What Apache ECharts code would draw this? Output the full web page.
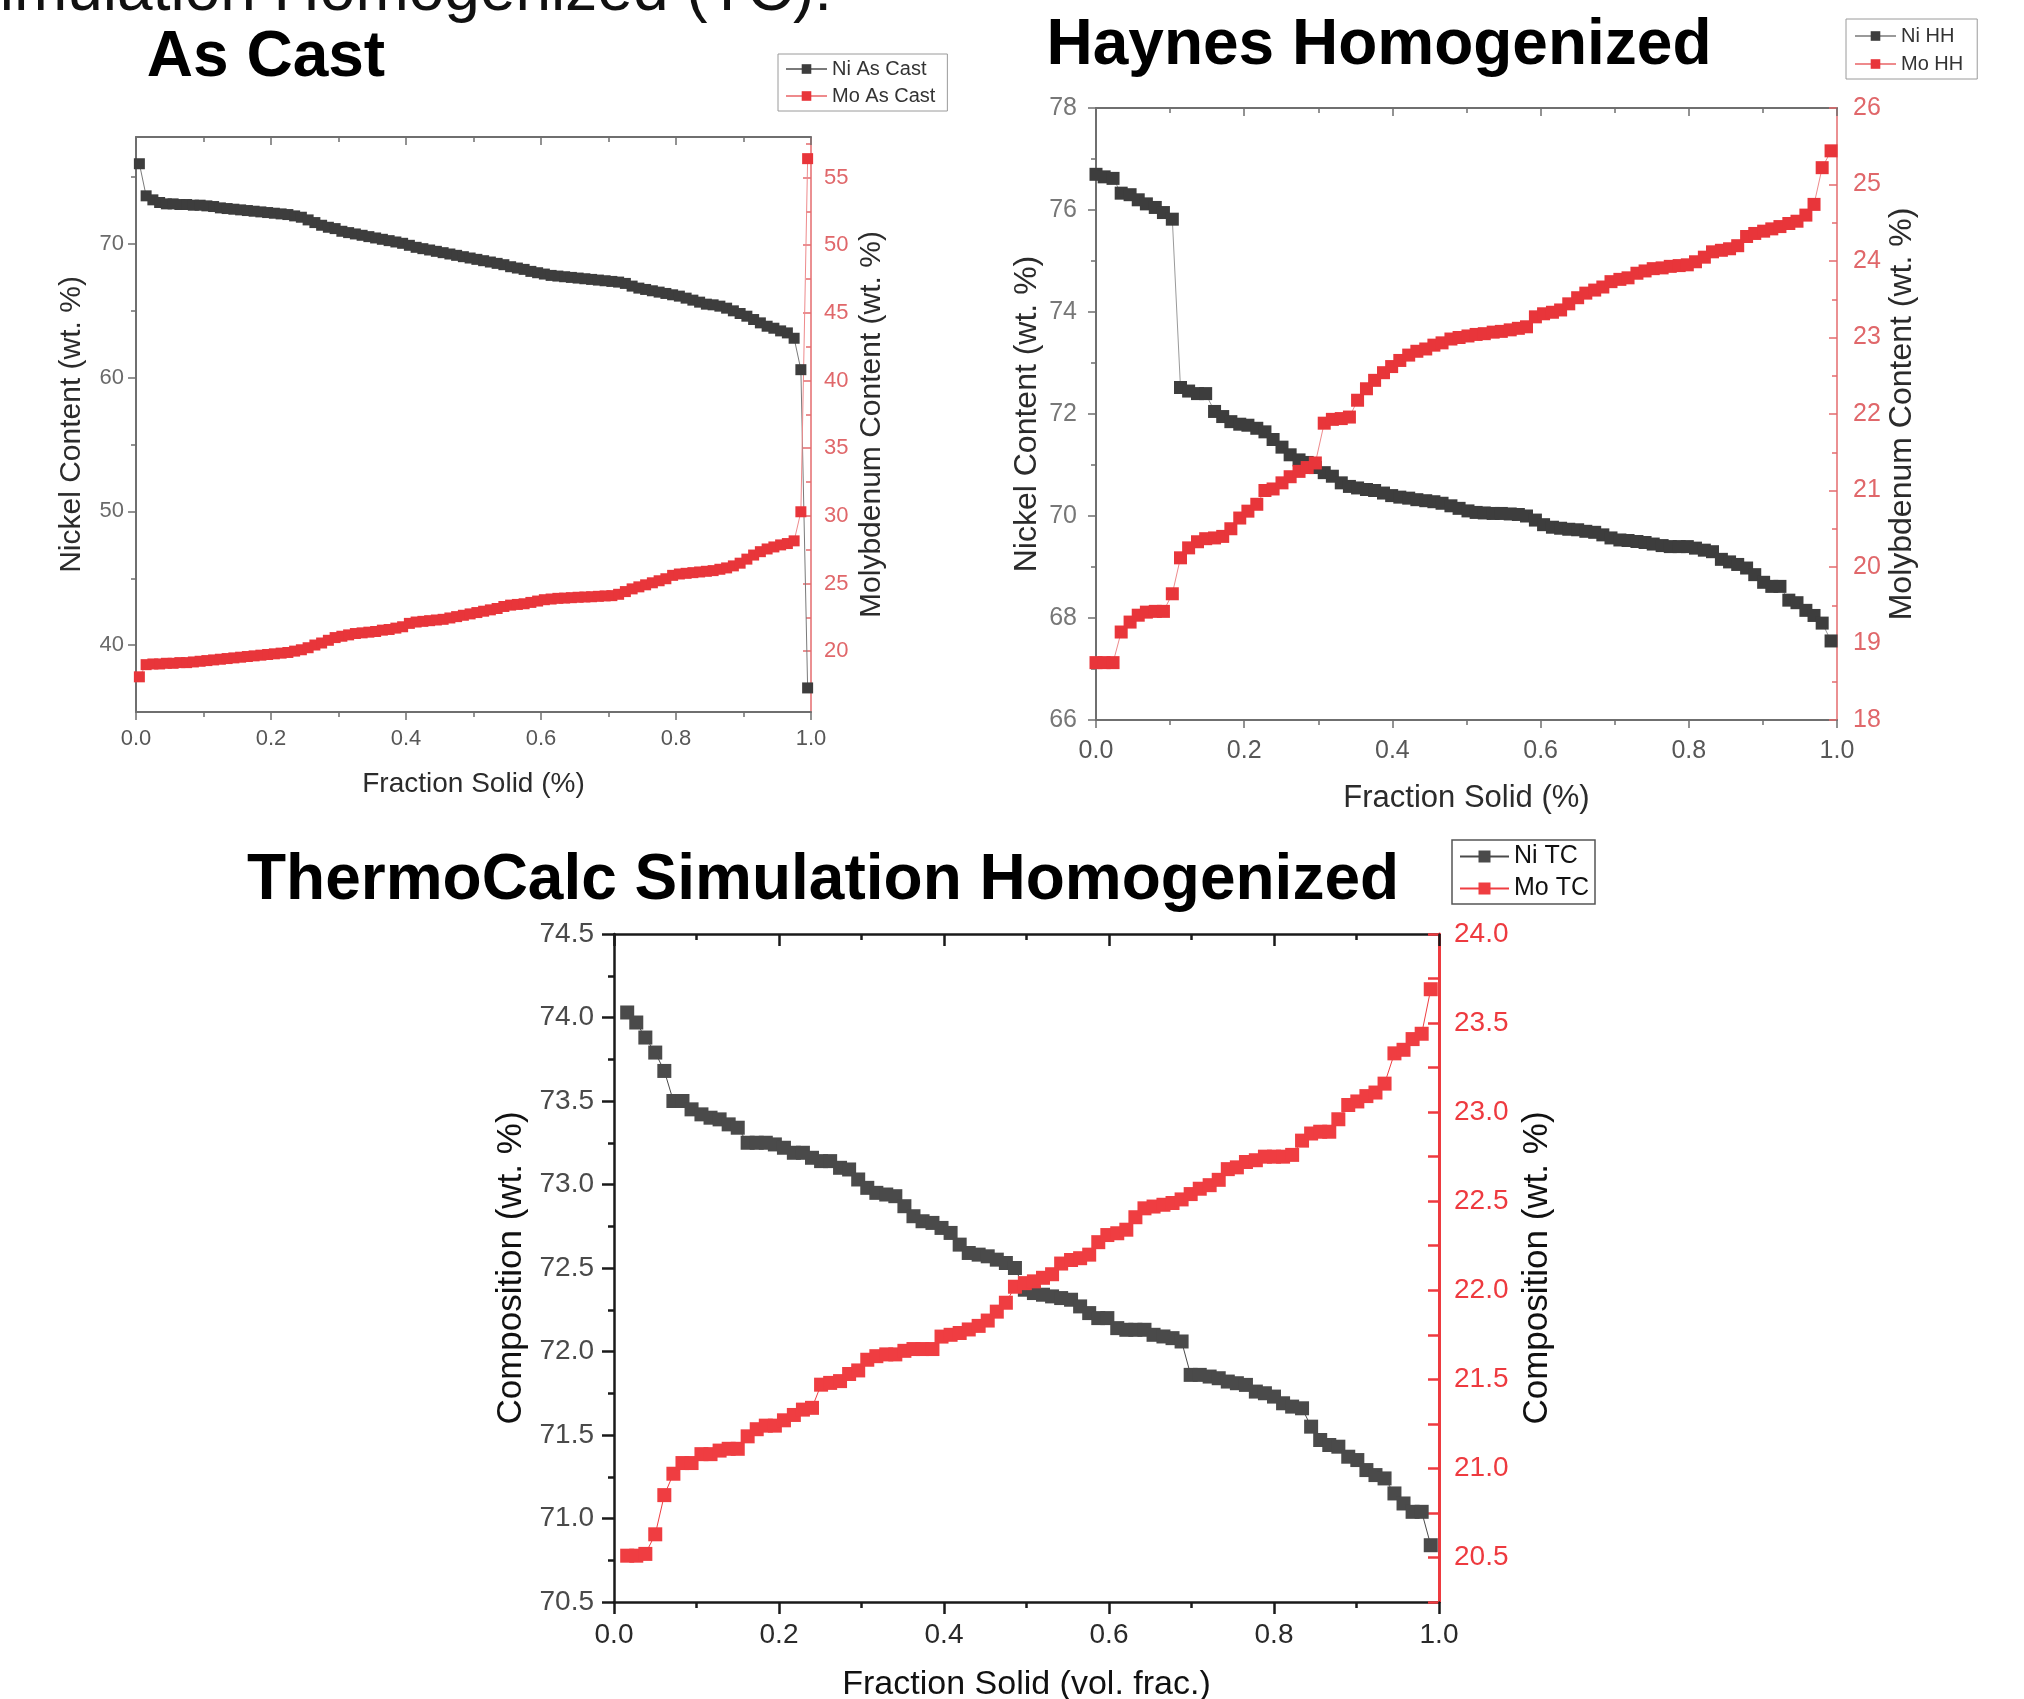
<!DOCTYPE html>
<html>
<head>
<meta charset="utf-8">
<title>Ni and Mo content vs fraction solid</title>
<script src="https://cdn.jsdelivr.net/npm/echarts@6.0.0/dist/echarts.min.js"></script>
<style>
  html, body { margin: 0; padding: 0; background: #fff; }
  #chart { width: 2024px; height: 1699px; }
</style>
</head>
<body>
<div id="chart"></div>
<script>
// ---- As Cast ----
const fracAsCast = [
  0.005, 0.015, 0.025, 0.035, 0.045, 0.055, 0.065, 0.075, 0.085, 0.095,
  0.105, 0.115, 0.125, 0.135, 0.145, 0.155, 0.165, 0.175, 0.185, 0.195,
  0.205, 0.215, 0.225, 0.235, 0.245, 0.255, 0.265, 0.275, 0.285, 0.295,
  0.305, 0.315, 0.325, 0.335, 0.345, 0.355, 0.365, 0.375, 0.385, 0.395,
  0.405, 0.415, 0.425, 0.435, 0.445, 0.455, 0.465, 0.475, 0.485, 0.495,
  0.505, 0.515, 0.525, 0.535, 0.545, 0.555, 0.565, 0.575, 0.585, 0.595,
  0.605, 0.615, 0.625, 0.635, 0.645, 0.655, 0.665, 0.675, 0.685, 0.695,
  0.705, 0.715, 0.725, 0.735, 0.745, 0.755, 0.765, 0.775, 0.785, 0.795,
  0.805, 0.815, 0.825, 0.835, 0.845, 0.855, 0.865, 0.875, 0.885, 0.895,
  0.905, 0.915, 0.925, 0.935, 0.945, 0.955, 0.965, 0.975, 0.985, 0.995
]
const niAsCast = [
  76.0, 73.6, 73.3, 73.1, 73.0, 73.0, 72.95, 72.95, 72.9, 72.9,
  72.85, 72.8, 72.7, 72.65, 72.6, 72.55, 72.5, 72.45, 72.4, 72.35,
  72.3, 72.25, 72.2, 72.1, 72.0, 71.8, 71.6, 71.4, 71.25, 71.15,
  70.95, 70.85, 70.75, 70.65, 70.55, 70.45, 70.35, 70.25, 70.15, 70.05,
  69.9, 69.75, 69.65, 69.55, 69.45, 69.35, 69.25, 69.15, 69.05, 68.95,
  68.85, 68.75, 68.65, 68.55, 68.45, 68.3, 68.2, 68.1, 67.95, 67.85,
  67.75, 67.65, 67.6, 67.55, 67.5, 67.45, 67.4, 67.35, 67.3, 67.25,
  67.2, 67.15, 67.05, 66.85, 66.7, 66.6, 66.5, 66.4, 66.3, 66.2,
  66.1, 65.95, 65.8, 65.65, 65.5, 65.45, 65.35, 65.2, 65.0, 64.8,
  64.6, 64.35, 64.1, 63.85, 63.7, 63.5, 63.35, 62.95, 60.6, 36.8
]
const moAsCast = [
  18.1, 19.0, 19.05, 19.05, 19.1, 19.1, 19.15, 19.15, 19.2, 19.25,
  19.3, 19.35, 19.4, 19.45, 19.5, 19.55, 19.6, 19.65, 19.7, 19.75,
  19.8, 19.85, 19.9, 20.0, 20.1, 20.25, 20.45, 20.6, 20.8, 21.0,
  21.1, 21.2, 21.3, 21.35, 21.4, 21.45, 21.55, 21.6, 21.7, 21.8,
  22.05, 22.15, 22.2, 22.25, 22.3, 22.35, 22.45, 22.55, 22.65, 22.75,
  22.85, 22.95, 23.05, 23.15, 23.3, 23.4, 23.45, 23.5, 23.6, 23.7,
  23.8, 23.85, 23.9, 23.92, 23.95, 23.98, 24.0, 24.02, 24.05, 24.08,
  24.1, 24.2, 24.4, 24.6, 24.75, 24.9, 25.05, 25.2, 25.35, 25.6,
  25.7, 25.75, 25.8, 25.85, 25.9, 25.95, 26.05, 26.15, 26.3, 26.5,
  26.8, 27.1, 27.35, 27.55, 27.7, 27.85, 27.95, 28.15, 30.3, 56.4
]

// ---- Haynes Homogenized ----
const fracHH = [
  0.000, 0.011, 0.023, 0.034, 0.046, 0.057, 0.068, 0.080, 0.091, 0.103,
  0.114, 0.125, 0.137, 0.148, 0.160, 0.171, 0.182, 0.194, 0.205, 0.217,
  0.228, 0.239, 0.251, 0.262, 0.274, 0.285, 0.296, 0.308, 0.319, 0.331,
  0.342, 0.353, 0.365, 0.376, 0.388, 0.399, 0.410, 0.422, 0.433, 0.445,
  0.456, 0.467, 0.479, 0.490, 0.502, 0.513, 0.524, 0.536, 0.547, 0.559,
  0.570, 0.581, 0.593, 0.604, 0.616, 0.627, 0.638, 0.650, 0.661, 0.673,
  0.684, 0.695, 0.707, 0.718, 0.730, 0.741, 0.752, 0.764, 0.775, 0.787,
  0.798, 0.809, 0.821, 0.832, 0.844, 0.855, 0.866, 0.878, 0.889, 0.901,
  0.912, 0.923, 0.935, 0.946, 0.958, 0.969, 0.980, 0.992
]
const niHH = [
  76.7, 76.65, 76.62, 76.33, 76.3, 76.2, 76.12, 76.05, 75.95, 75.82,
  72.52, 72.45, 72.4, 72.4, 72.05, 71.95, 71.85, 71.8, 71.78, 71.72,
  71.65, 71.5, 71.35, 71.2, 71.1, 71.05, 70.95, 70.85, 70.78, 70.65,
  70.58, 70.55, 70.52, 70.5, 70.45, 70.4, 70.37, 70.35, 70.32, 70.3,
  70.28, 70.25, 70.2, 70.15, 70.1, 70.07, 70.06, 70.05, 70.05, 70.04,
  70.03, 70.0, 69.92, 69.83, 69.78, 69.76, 69.74, 69.73, 69.7, 69.68,
  69.63, 69.57, 69.53, 69.52, 69.5, 69.48, 69.45, 69.42, 69.4, 69.4,
  69.4, 69.37, 69.33, 69.3, 69.15, 69.1, 69.05, 68.98, 68.85, 68.7,
  68.62, 68.62, 68.35, 68.3, 68.15, 68.05, 67.9, 67.55
]
const moHH = [
  18.75, 18.75, 18.75, 19.15, 19.28, 19.37, 19.41, 19.42, 19.42, 19.65,
  20.12, 20.25, 20.33, 20.37, 20.38, 20.4, 20.5, 20.64, 20.73, 20.82,
  21.0, 21.02, 21.1, 21.18, 21.25, 21.3, 21.36, 21.88, 21.93, 21.94,
  21.96, 22.18, 22.33, 22.44, 22.54, 22.62, 22.7, 22.77, 22.82, 22.85,
  22.9, 22.93, 22.98, 23.0, 23.02, 23.04, 23.05, 23.07, 23.08, 23.1,
  23.12, 23.14, 23.27, 23.31, 23.33, 23.36, 23.44, 23.52, 23.58, 23.62,
  23.66, 23.73, 23.76, 23.78, 23.84, 23.87, 23.9, 23.91, 23.93, 23.94,
  23.95, 23.99, 24.05, 24.12, 24.14, 24.16, 24.2, 24.32, 24.36, 24.39,
  24.42, 24.45, 24.49, 24.52, 24.6, 24.74, 25.22, 25.44
]

// ---- ThermoCalc Simulation Homogenized ----
const fracTC = [
  0.016, 0.027, 0.038, 0.050, 0.061, 0.072, 0.083, 0.094, 0.106, 0.117,
  0.128, 0.139, 0.150, 0.162, 0.173, 0.184, 0.195, 0.206, 0.218, 0.229,
  0.240, 0.251, 0.262, 0.274, 0.285, 0.296, 0.307, 0.318, 0.330, 0.341,
  0.352, 0.363, 0.374, 0.386, 0.397, 0.408, 0.419, 0.430, 0.442, 0.453,
  0.464, 0.475, 0.486, 0.498, 0.509, 0.520, 0.531, 0.542, 0.554, 0.565,
  0.576, 0.587, 0.598, 0.610, 0.621, 0.632, 0.643, 0.654, 0.666, 0.677,
  0.688, 0.699, 0.710, 0.722, 0.733, 0.744, 0.755, 0.766, 0.778, 0.789,
  0.800, 0.811, 0.822, 0.834, 0.845, 0.856, 0.867, 0.878, 0.890, 0.901,
  0.912, 0.923, 0.934, 0.946, 0.957, 0.968, 0.979, 0.990
]
const niTC = [
  74.03, 73.97, 73.88, 73.79, 73.68, 73.5, 73.5, 73.45, 73.42, 73.4,
  73.39, 73.36, 73.34, 73.25, 73.25, 73.25, 73.24, 73.22, 73.19, 73.19,
  73.16, 73.14, 73.14, 73.1, 73.09, 73.03, 72.98, 72.95, 72.94, 72.93,
  72.87, 72.81, 72.78, 72.77, 72.74, 72.71, 72.64, 72.59, 72.58, 72.57,
  72.55, 72.53, 72.5, 72.37, 72.35, 72.34, 72.33, 72.32, 72.31, 72.27,
  72.23, 72.2, 72.2, 72.14, 72.13, 72.13, 72.13, 72.1, 72.09, 72.08,
  72.06, 71.86, 71.86, 71.85, 71.84, 71.82, 71.81, 71.8, 71.76, 71.75,
  71.73, 71.69, 71.67, 71.66, 71.55, 71.47, 71.44, 71.43, 71.37, 71.35,
  71.29, 71.26, 71.24, 71.15, 71.09, 71.04, 71.04, 70.84
]
const moTC = [
  20.51, 20.51, 20.52, 20.63, 20.85, 20.97, 21.03, 21.03, 21.08, 21.08,
  21.1, 21.11, 21.11, 21.18, 21.22, 21.24, 21.24, 21.27, 21.3, 21.33,
  21.34, 21.47, 21.48, 21.49, 21.53, 21.55, 21.61, 21.63, 21.64, 21.64,
  21.66, 21.67, 21.67, 21.67, 21.74, 21.75, 21.76, 21.78, 21.8, 21.83,
  21.88, 21.93, 22.02, 22.04, 22.05, 22.07, 22.09, 22.15, 22.17, 22.18,
  22.2, 22.27, 22.31, 22.32, 22.34, 22.41, 22.46, 22.47, 22.48, 22.49,
  22.51, 22.54, 22.57, 22.59, 22.62, 22.68, 22.69, 22.72, 22.73, 22.75,
  22.75, 22.75, 22.76, 22.84, 22.88, 22.89, 22.89, 22.96, 23.04, 23.06,
  23.09, 23.11, 23.16, 23.33, 23.35, 23.41, 23.44, 23.69
]

// tick labels of the As Cast panel (its ranges are not round)
const niAsCastTicks = [40, 50, 60, 70]
const niAsCastMinor = [45, 55, 65, 75]
const moAsCastTicks = [20, 25, 30, 35, 40, 45, 50, 55]
const moAsCastMinor = [17.5, 22.5, 27.5, 32.5, 37.5, 42.5, 47.5, 52.5, 57.5]

const FONT = '"Liberation Sans", Arial, Helvetica, sans-serif'

const looks = [
  { // as cast
    line: '#6f6f6f', lineW: 2, red: '#e46b6e', redW: 1.5, tickW: 1.5,
    xLabel: '#575757', label: '#6a6a6a', redLabel: '#e0676a', name: '#2b2b2b',
    labelSize: 22, nameSize: 28, yNameSize: 30, tick: 8, minor: 5
  },
  { // haynes
    line: '#6f6f6f', lineW: 2, red: '#e46b6e', redW: 1.5, tickW: 1.5,
    xLabel: '#575757', label: '#777777', redLabel: '#e0676a', name: '#2b2b2b',
    labelSize: 25, nameSize: 31, yNameSize: 32, tick: 8, minor: 5
  },
  { // thermocalc
    line: '#1a1a1a', lineW: 2.5, red: '#ee3a3f', redW: 3, tickW: 2.5,
    xLabel: '#2a2a2a', label: '#4a4a4a', redLabel: '#ee3a3f', name: '#111111',
    labelSize: 28, nameSize: 34, yNameSize: 35, tick: 12, minor: 6
  }
]

function fracAxes(g, lk, name, nameGap, margin) {
  const lineStyle = { color: lk.line, width: lk.lineW }
  const tickStyle = { color: lk.line, width: lk.tickW }
  return [{
    type: 'value', gridIndex: g, position: 'bottom', min: 0, max: 1, interval: 0.2,
    name: name, nameLocation: 'middle', nameGap: nameGap, nameMoveOverlap: false,
    nameTextStyle: { fontFamily: FONT, fontSize: lk.nameSize, color: lk.name },
    axisLine: { onZero: false, lineStyle: lineStyle },
    axisTick: { length: lk.tick, lineStyle: tickStyle },
    minorTick: { show: true, splitNumber: 2, length: lk.minor, lineStyle: tickStyle },
    axisLabel: {
      margin: margin, fontFamily: FONT, fontSize: lk.labelSize, color: lk.xLabel,
      formatter: v => v.toFixed(1)
    },
    splitLine: { show: false }
  }, {
    type: 'value', gridIndex: g, position: 'top', min: 0, max: 1, interval: 0.2,
    axisLine: { onZero: false, lineStyle: lineStyle },
    axisTick: { inside: true, length: lk.tick, lineStyle: tickStyle },
    minorTick: { show: true, splitNumber: 2, length: lk.minor, lineStyle: tickStyle },
    axisLabel: { show: false },
    splitLine: { show: false }
  }]
}

function valueAxis(g, side, lk, o) {
  const right = side === 'right'
  const color = right ? lk.red : lk.line
  const tickStyle = { color: color, width: lk.tickW }
  return {
    type: 'value', gridIndex: g, position: side, min: o.min, max: o.max, interval: o.interval,
    name: o.name, nameLocation: 'middle', nameRotate: 90, nameGap: o.nameGap, nameMoveOverlap: false,
    nameTextStyle: { fontFamily: FONT, fontSize: lk.yNameSize, color: lk.name },
    axisLine: { show: true, onZero: false, lineStyle: { color: color, width: right ? lk.redW : lk.lineW } },
    axisTick: { show: true, inside: right, length: o.tick || lk.tick, lineStyle: tickStyle, customValues: o.ticks },
    minorTick: { show: !!o.minorTick, splitNumber: 2, length: lk.minor, lineStyle: tickStyle },
    axisLabel: {
      margin: o.margin, fontFamily: FONT, fontSize: lk.labelSize,
      color: right ? lk.redLabel : lk.label, formatter: o.format, customValues: o.ticks
    },
    splitLine: { show: false }
  }
}

// extra axis that only draws the short ticks between labelled ones
function minorAxis(g, side, lk, min, max, values) {
  const color = side === 'right' ? lk.red : lk.line
  return {
    type: 'value', gridIndex: g, position: side, min: min, max: max,
    axisLine: { show: false, onZero: false },
    axisLabel: { show: false },
    splitLine: { show: false },
    axisTick: {
      show: true, inside: side === 'right', length: lk.minor, customValues: values,
      lineStyle: { color: color, width: lk.tickW }
    }
  }
}

function series(name, xs, ys, xi, yi, color, lineColor, size) {
  return {
    name: name, type: 'line', xAxisIndex: xi, yAxisIndex: yi,
    data: xs.map((x, i) => [x, ys[i]]),
    symbol: 'rect', symbolSize: size, showSymbol: true, showAllSymbol: true,
    itemStyle: { color: color },
    lineStyle: { color: lineColor, width: 1 },
    emphasis: { disabled: true },
    animation: false
  }
}

const half = v => Math.abs(v * 2 - Math.round(v * 2)) < 1e-6

const chart = echarts.init(document.getElementById('chart'))

chart.setOption({
  animation: false,
  backgroundColor: '#ffffff',
  textStyle: { fontFamily: FONT },
  grid: [
    { left: 136, top: 137, width: 675, height: 575, containLabel: false, outerBoundsMode: 'none' },
    { left: 1096, top: 108, width: 741, height: 612, containLabel: false, outerBoundsMode: 'none' },
    { left: 614, top: 934, width: 825, height: 668, containLabel: false, outerBoundsMode: 'none' }
  ],
  xAxis: [].concat(
    fracAxes(0, looks[0], 'Fraction Solid (%)', 58, 16),
    fracAxes(1, looks[1], 'Fraction Solid (%)', 63, 19),
    fracAxes(2, looks[2], 'Fraction Solid (vol. frac.)', 66, 19)
  ),
  yAxis: [
    valueAxis(0, 'left', looks[0], { min: 35, max: 78, ticks: niAsCastTicks, name: 'Nickel Content (wt. %)', nameGap: 49, margin: 12 }),
    minorAxis(0, 'left', looks[0], 35, 78, niAsCastMinor),
    valueAxis(0, 'right', looks[0], { min: 15.5, max: 58, ticks: moAsCastTicks, name: 'Molybdenum Content (wt. %)', nameGap: 46, margin: 13 }),
    minorAxis(0, 'right', looks[0], 15.5, 58, moAsCastMinor),

    valueAxis(1, 'left', looks[1], { min: 66, max: 78, interval: 2, minorTick: true, name: 'Nickel Content (wt. %)', nameGap: 53, margin: 19 }),
    valueAxis(1, 'right', looks[1], { min: 18, max: 26, interval: 1, minorTick: true, name: 'Molybdenum Content (wt. %)', nameGap: 49, margin: 16 }),

    valueAxis(2, 'left', looks[2], { min: 70.5, max: 74.5, interval: 0.5, minorTick: true, name: 'Composition (wt. %)', nameGap: 85, margin: 20, format: v => v.toFixed(1) }),
    valueAxis(2, 'right', looks[2], { min: 20.25, max: 24, interval: 0.25, tick: 11, name: 'Composition (wt. %)', nameGap: 81, margin: 15, format: v => (half(v) ? v.toFixed(1) : '') })
  ],
  legend: [
    {
      data: ['Ni As Cast', 'Mo As Cast'], left: 778, top: 54, orient: 'vertical', selectedMode: false,
      itemWidth: 41, itemHeight: 12, itemGap: 7, padding: [5, 12, 5, 7],
      borderColor: '#9a9a9a', borderWidth: 1,
      textStyle: { fontFamily: FONT, fontSize: 20, color: '#333' }
    },
    {
      data: ['Ni HH', 'Mo HH'], left: 1846, top: 19, orient: 'vertical', selectedMode: false,
      itemWidth: 41, itemHeight: 12, itemGap: 8, padding: [7, 14, 5, 8],
      borderColor: '#9a9a9a', borderWidth: 1,
      textStyle: { fontFamily: FONT, fontSize: 20, color: '#333' }
    },
    {
      data: ['Ni TC', 'Mo TC'], left: 1452, top: 840, orient: 'vertical', selectedMode: false,
      itemWidth: 49, itemHeight: 15, itemGap: 7, padding: [4, 6, 3, 7],
      borderColor: '#555', borderWidth: 1.5,
      textStyle: { fontFamily: FONT, fontSize: 25, color: '#111' }
    }
  ],
  graphic: [
    { type: 'text', x: 832, y: -8, silent: true,
      style: { text: 'ThermoCalc Simulation Homogenized (TC):', fontFamily: FONT, fontSize: 64, fill: '#111',
        align: 'right', verticalAlign: 'middle', textAlign: 'right', textVerticalAlign: 'middle' } },
    { type: 'text', x: 266, y: 58, silent: true,
      style: { text: 'As Cast', fontFamily: FONT, fontSize: 64, fontWeight: 'bold', fill: '#000',
        align: 'center', verticalAlign: 'middle', textAlign: 'center', textVerticalAlign: 'middle' } },
    { type: 'text', x: 1379, y: 46, silent: true,
      style: { text: 'Haynes Homogenized', fontFamily: FONT, fontSize: 64, fontWeight: 'bold', fill: '#000',
        align: 'center', verticalAlign: 'middle', textAlign: 'center', textVerticalAlign: 'middle' } },
    { type: 'text', x: 823, y: 881, silent: true,
      style: { text: 'ThermoCalc Simulation Homogenized', fontFamily: FONT, fontSize: 64, fontWeight: 'bold', fill: '#000',
        align: 'center', verticalAlign: 'middle', textAlign: 'center', textVerticalAlign: 'middle' } }
  ],
  series: [
    series('Ni As Cast', fracAsCast, niAsCast, 0, 0, '#3d3d3d', '#7a7a7a', 11),
    series('Mo As Cast', fracAsCast, moAsCast, 0, 2, '#e8353a', '#ee8a8c', 11),
    series('Ni HH', fracHH, niHH, 2, 4, '#3d3d3d', '#9a9a9a', 13),
    series('Mo HH', fracHH, moHH, 2, 5, '#e8353a', '#ee8a8c', 13),
    series('Ni TC', fracTC, niTC, 4, 6, '#4a4a4a', '#4a4a4a', 14),
    series('Mo TC', fracTC, moTC, 4, 7, '#ef3d41', '#ef3d41', 14)
  ]
})
</script>
</body>
</html>
